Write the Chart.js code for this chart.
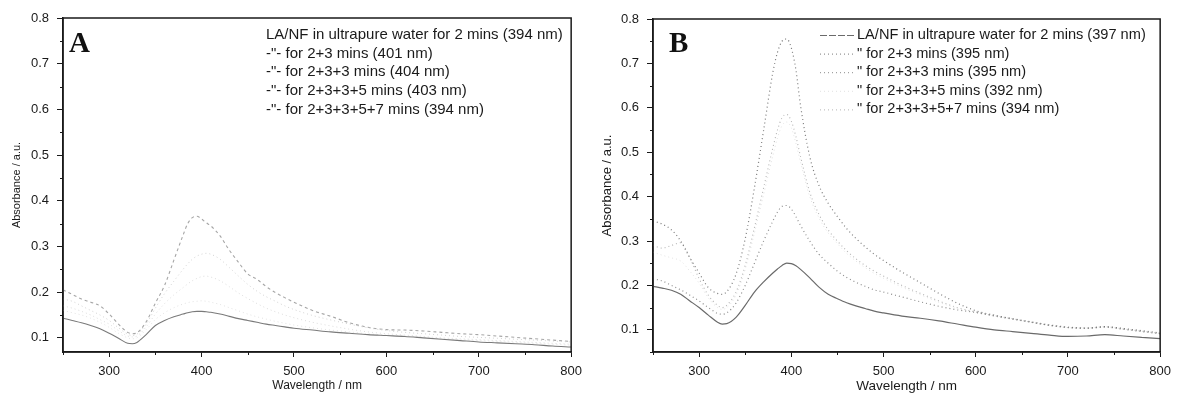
<!DOCTYPE html>
<html><head><meta charset="utf-8">
<script src="https://cdn.jsdelivr.net/npm/chart.js@4.4.1/dist/chart.umd.min.js"></script>
<style>
html,body{margin:0;padding:0;background:#fff;}
#wrap{position:relative;width:1178px;height:394px;overflow:hidden;}
.c{position:absolute;top:0;width:589px;height:394px;}
</style></head><body>
<div id="wrap">
<div class="c" style="left:0"><canvas id="ca" width="589" height="394"></canvas></div>
<div class="c" style="left:589px"><canvas id="cb" width="589" height="394"></canvas></div>
</div>
<script>
// ---------- data ----------
const wavelengths = [250,260,270,280,290,300,310,320,325,330,340,350,360,370,380,385,390,395,400,405,410,420,430,440,450,460,470,480,490,500,520,540,560,580,600,620,640,660,680,700,720,740,760,780,800];

const xTicks = [300,400,500,600,700,800];
const xMinorTicks = [250,350,450,550,650,750];
const yTicksA = [0.1,0.2,0.3,0.4,0.5,0.6,0.7,0.8];
const yMinorTicksA = [0.15,0.25,0.35,0.45,0.55,0.65,0.75];
const yTicksB = [0.1,0.2,0.3,0.4,0.5,0.6,0.7,0.8];
const yMinorTicksB = [0.05,0.15,0.25,0.35,0.45,0.55,0.65,0.75];

const labelsA = [
  'LA/NF in ultrapure water for 2 mins (394 nm)',
  '-"- for 2+3 mins (401 nm)',
  '-"- for 2+3+3 mins (404 nm)',
  '-"- for 2+3+3+5 mins (403 nm)',
  '-"- for 2+3+3+5+7 mins (394 nm)'
];
const labelsB = [
  'LA/NF in ultrapure water for 2 mins (397 nm)',
  '" for 2+3 mins (395 nm)',
  '" for 2+3+3 mins (395 nm)',
  '" for 2+3+3+5 mins (392 nm)',
  '" for 2+3+3+5+7 mins (394 nm)'
];

const seriesA1 = [.143,.138,.133,.127,.120,.110,.099,.088,.087,.090,.107,.127,.138,.146,.152,.155,.157,.158,.158,.157,.156,.152,.147,.142,.138,.134,.130,.127,.124,.121,.117,.113,.110,.107,.105,.103,.100,.097,.094,.091,.089,.087,.085,.082,.080];
const seriesA2 = [.160,.155,.150,.143,.134,.123,.110,.100,.098,.100,.118,.140,.155,.166,.174,.177,.179,.180,.181,.180,.178,.173,.166,.159,.152,.146,.141,.136,.132,.128,.122,.117,.113,.109,.106,.104,.101,.098,.096,.094,.092,.090,.088,.086,.084];
const seriesA3 = [.170,.165,.158,.150,.140,.130,.116,.104,.102,.104,.124,.152,.175,.194,.210,.218,.225,.230,.234,.235,.233,.225,.212,.198,.186,.175,.165,.157,.150,.144,.134,.126,.119,.113,.109,.106,.103,.100,.098,.096,.094,.092,.090,.088,.086];
const seriesA4 = [.185,.180,.170,.160,.150,.138,.122,.108,.105,.108,.130,.165,.197,.224,.250,.262,.272,.279,.283,.285,.283,.272,.254,.235,.217,.202,.190,.180,.170,.162,.149,.139,.130,.122,.116,.112,.109,.106,.103,.101,.099,.097,.095,.093,.091];
const seriesA5 = [.205,.195,.185,.178,.170,.152,.130,.112,.109,.111,.135,.176,.215,.270,.325,.350,.363,.366,.360,.352,.345,.323,.292,.265,.240,.228,.212,.199,.188,.178,.160,.147,.133,.123,.118,.117,.115,.112,.109,.107,.104,.101,.098,.095,.092];

const seriesB1 = [.198,.194,.189,.180,.165,.150,.133,.117,.113,.114,.128,.155,.185,.208,.228,.237,.245,.250,.249,.244,.236,.217,.196,.180,.170,.161,.154,.148,.142,.138,.131,.126,.120,.113,.106,.100,.096,.092,.088,.085,.086,.089,.086,.083,.080];
const seriesB2 = [.345,.338,.325,.300,.262,.228,.195,.182,.180,.186,.225,.305,.420,.550,.680,.725,.750,.755,.735,.685,.605,.490,.425,.385,.355,.328,.306,.287,.270,.256,.230,.206,.182,.160,.143,.133,.125,.118,.111,.106,.104,.107,.103,.098,.093];
const seriesB3 = [.215,.210,.200,.190,.178,.165,.150,.137,.135,.138,.160,.200,.250,.300,.345,.365,.378,.380,.372,.355,.335,.300,.270,.250,.232,.218,.207,.198,.190,.185,.174,.163,.153,.145,.139,.131,.124,.117,.110,.105,.103,.106,.101,.096,.091];
const seriesB4 = [.275,.268,.262,.255,.232,.205,.172,.150,.146,.150,.178,.236,.318,.405,.492,.532,.560,.568,.555,.520,.478,.400,.352,.318,.294,.272,.255,.240,.227,.216,.196,.179,.162,.149,.139,.131,.124,.117,.110,.105,.103,.106,.101,.096,.091];
const seriesB5 = [.290,.284,.290,.296,.262,.215,.178,.155,.150,.155,.185,.245,.330,.420,.510,.550,.578,.585,.570,.535,.490,.410,.360,.325,.300,.278,.260,.245,.232,.221,.200,.182,.165,.150,.140,.132,.125,.117,.110,.105,.104,.107,.102,.097,.092];

// ---------- helpers ----------
const SANS = '"Liberation Sans", Arial, Helvetica, sans-serif';
const toXY = arr => arr.map((v, i) => ({x: wavelengths[i], y: v}));

const framePlugin = {
  id: 'frame',
  afterDraw(chart, args, o) {
    const {ctx, chartArea: a, scales} = chart;
    ctx.save();
    ctx.strokeStyle = '#1a1a1a';
    ctx.lineWidth = 1.5;
    ctx.strokeRect(a.left, a.top, a.right - a.left, a.bottom - a.top);
    ctx.lineWidth = 1;
    o.xMinor.forEach(v => {
      const px = Math.round(scales.x.getPixelForValue(v)) + 0.5;
      ctx.beginPath(); ctx.moveTo(px, a.bottom); ctx.lineTo(px, a.bottom + 3); ctx.stroke();
    });
    o.yMinor.forEach(v => {
      const py = Math.round(scales.y.getPixelForValue(v)) + 0.5;
      ctx.beginPath(); ctx.moveTo(a.left, py); ctx.lineTo(a.left - 3, py); ctx.stroke();
    });
    ctx.fillStyle = '#111';
    ctx.font = 'bold 29px "Liberation Serif", "Times New Roman", serif';
    ctx.textBaseline = 'alphabetic';
    ctx.textAlign = 'left';
    ctx.fillText(o.letter, o.letterX, o.letterY);
    ctx.font = o.legendFont + 'px ' + SANS;
    ctx.textBaseline = 'middle';
    chart.data.datasets.forEach((ds, i) => {
      const y = o.legendY0 + i * o.legendDy;
      if (o.samples) {
        ctx.save();
        ctx.strokeStyle = ds.borderColor;
        ctx.lineWidth = 1;
        ctx.setLineDash(ds.legendDash || ds.borderDash || []);
        ctx.beginPath(); ctx.moveTo(o.sampleX0, y + 0.5); ctx.lineTo(o.sampleX1, y + 0.5); ctx.stroke();
        ctx.restore();
      }
      ctx.fillStyle = '#1a1a1a';
      ctx.fillText(ds.label, o.textX, y);
    });
    ctx.restore();
  }
};

function makeChart(id, cfg) {
  const datasets = cfg.series.map((s, i) => ({
    label: cfg.labels[i],
    data: toXY(s),
    borderColor: cfg.colors[i],
    borderDash: cfg.dashes[i],
    legendDash: cfg.legendDashes ? cfg.legendDashes[i] : undefined,
    borderWidth: cfg.widths[i],
    pointRadius: 0,
    fill: false,
    cubicInterpolationMode: 'monotone'
  }));
  return new Chart(document.getElementById(id), {
    type: 'line',
    data: {datasets},
    plugins: [framePlugin],
    options: {
      responsive: false,
      animation: false,
      devicePixelRatio: 1,
      layout: {padding: cfg.padding},
      plugins: {
        legend: {display: false},
        tooltip: {enabled: false},
        frame: cfg.frame
      },
      scales: {
        x: {
          type: 'linear', min: 250, max: 800,
          afterBuildTicks: s => { s.ticks = xTicks.map(v => ({value: v})); },
          afterFit: s => { s.height = cfg.xAxisHeight; },
          ticks: {autoSkip: false, maxRotation: 0, color: '#1a1a1a', padding: 7,
                  font: {family: SANS, size: 13}, callback: v => String(v)},
          grid: {drawOnChartArea: false, drawTicks: true, tickLength: 5, color: '#1a1a1a', lineWidth: 1},
          border: {display: true, color: '#1a1a1a', width: 1.5},
          title: {display: true, text: 'Wavelength / nm', color: '#1a1a1a',
                  font: {family: SANS, size: cfg.xTitleSize}, padding: {top: 0, bottom: cfg.xTitlePad}}
        },
        y: {
          type: 'linear', min: cfg.yMin, max: 0.8,
          afterBuildTicks: s => { s.ticks = cfg.yTicks.map(v => ({value: v})); },
          afterFit: s => { s.width = cfg.yAxisWidth; },
          ticks: {autoSkip: false, color: '#1a1a1a', padding: 8,
                  font: {family: SANS, size: 13}, callback: v => v.toFixed(1)},
          grid: {drawOnChartArea: false, drawTicks: true, tickLength: 6, color: '#1a1a1a', lineWidth: 1},
          border: {display: true, color: '#1a1a1a', width: 1.5},
          title: {display: true, text: 'Absorbance / a.u.', color: '#1a1a1a',
                  font: {family: SANS, size: cfg.yTitleSize}, padding: {top: cfg.yTitlePad, bottom: 0}}
        }
      }
    }
  });
}

makeChart('ca', {
  series: [seriesA1, seriesA2, seriesA3, seriesA4, seriesA5],
  labels: labelsA,
  colors: ['#7a7a7a', '#e2e2e2', '#dcdcdc', '#d2d2d2', '#a6a6a6'],
  dashes: [[], [1, 3], [1, 3], [1, 3], [3, 3]],
  widths: [1.1, 1, 1, 1, 1.1],
  padding: {left: 0, top: 18, right: 10, bottom: 0},
  yAxisWidth: 63, xAxisHeight: 42,
  yMin: 0.069, yTicks: yTicksA,
  xTitleSize: 12, xTitlePad: 1,
  yTitleSize: 11, yTitlePad: 10,
  frame: {xMinor: xMinorTicks, yMinor: yMinorTicksA, letter: 'A', letterX: 69, letterY: 52,
          samples: false, textX: 266, legendY0: 35, legendDy: 18.6, legendFont: 15}
});

makeChart('cb', {
  series: [seriesB1, seriesB2, seriesB3, seriesB4, seriesB5],
  labels: labelsB,
  colors: ['#6a6a6a', '#7a7a7a', '#8c8c8c', '#e2e2e2', '#b4b4b4'],
  dashes: [[], [1, 3], [1, 3], [1, 3], [1, 3]],
  legendDashes: [[7, 2], [1, 3], [1, 3], [1, 3], [1, 3]],
  widths: [1.2, 1.2, 1.2, 1, 1.1],
  padding: {left: 0, top: 19, right: 11, bottom: 0},
  yAxisWidth: 64, xAxisHeight: 42,
  yMin: 0.05, yTicks: yTicksB,
  xTitleSize: 13.5, xTitlePad: 0,
  yTitleSize: 13, yTitlePad: 11,
  frame: {xMinor: xMinorTicks, yMinor: yMinorTicksB, letter: 'B', letterX: 80, letterY: 52,
          samples: true, sampleX0: 231, sampleX1: 267, textX: 268, legendY0: 35, legendDy: 18.6, legendFont: 14.6}
});
</script>
</body></html>
